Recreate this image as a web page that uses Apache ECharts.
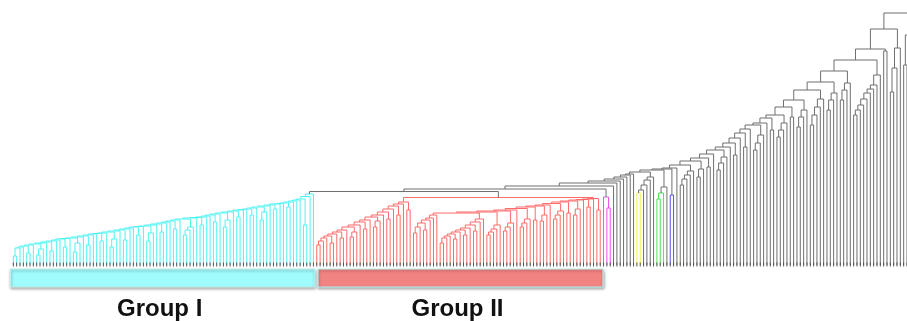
<!DOCTYPE html>
<html><head><meta charset="utf-8">
<script src="https://cdn.jsdelivr.net/npm/echarts@6.0.0/dist/echarts.min.js"></script>
<style>html,body{margin:0;padding:0;background:#fff;}#c{width:907px;height:321px;}</style>
</head><body><div id="c"></div>
<script>
// ---------------- data (heights, px above baseline) ----------------
// Group I: ladder of blocks (leaf counts), inner merge heights (flattened), join heights
const g1Sizes = [2,1,1,2,1,3,1,2,1,1, 2,1,3,1,2,1,1,2,1,3, 1,2,1,1,2,1,3,1,2,1, 1,2,1,4,1,2,1,1,2,1, 3,1,2,1,1,2,1,3,1,2, 1,1,2,1,1,1,2,1,1];
const g1Inner = [9,12,10,16,14,18,13,22,20,24,18,26,25,30,24,32,33,36,30,35,38,40,43,38,45,48,50,45,53,56,58,40];
const g1Joins = [17,18,19,20,21,22,23,24,25,26, 26.5,27,28,29,30,31,31.5,32,33,34, 35,36,37,38,38.5,39,40,41,42,43, 44,45,46,47,47.5,48,49,50,51,52, 53,54,55,55.5,56,57,58,59,60,61, 61.5,62,63,64,65,66,68.5,71];
// Group II, sub-clade a (left)
const g2aSizes = [2,1,1,2,1,2,1,3,1,2,1,3,1,2,1,2,1,2];
const g2aInner = [20,22,27,28,33,36,38,44,46,50,55];
const g2aJoins = [24,27,29,31,33,35,38,40,43,45,48,50,53,56,59,61,63];
// Group II, sub-clade b (small middle)
const g2bSizes = [2,1,2,1,1,1];
const g2bInner = [32,35];
const g2bJoins = [38,42,45,47,50];
// Group II, sub-clade c (start of right ladder)
const g2cSizes = [2,1,1,2,1,2,1,2,1,1];
const g2cInner = [22,26,30,34];
const g2cJoins = [27,29,31,33,35,37,40,43,46];
const g2bcJoin = 52;
// Group II, blocks joining the right ladder
const g2dSizes = [5,4,1,4,2,3,1,4,2,3,1,2,1,2];
const g2dInner = [30,33,36,40, 34,38,42, 38,42,46, 45, 44,50, 46,50,54, 52, 50,56, 58, 55];
const g2dJoins = [53,54,55,56.5,58,59,60,61.5,63,64,65,65.5,66,66.5];
const g2Root = 67.5;
const groupsJoin = 73.5;
// magenta cluster
const magSizes = [1,2];
const magInner = [57];
const magJoins = [68];
const magJoin = 76;
// remaining (unassigned) part: ladder of blocks up to the root
const graySizes = [1,1,1,1,1,1,1, 6,4,2,1,5,3,2,1,4,1,2,1,2,1,4,1,2,4,2,4,5,4,4,9,2,4,3];
const grayInner = [72,75,80,85,88, 66,72,78, 70, 80,86,90,94, 88,96, 98, 95,102,108, 110, 118, 115,122,130, 135, 128,135,142, 148, 138,148,155, 140,150,158,166, 155,165,172, 165,175,182, 150,155,160,166,172,176,180,190, 214, 173,197,217, 200,230];
const grayJoins = [79,82,84,86,88,90,91, 93,95,96,97,100,104,107,111,115,118,122,127,132,136,140,142,147,150,158,165,175,183,194,205,216,236,252];
// small coloured clusters inside that part
const hlBlock = [7,8,9];
const hlCount = [2,3,2];
const hlColor = ['yellow','green','blue'];
// group bars
const groupNames = ['Group I','Group II'];
const groupColors = ['cyan','red'];

// ---------------- styles ----------------
const palette = {cyan:'#4ef3f3', red:'#ff6a6a', magenta:'#ee4cee', yellow:'#f0f045', green:'#52e052', blue:'#5252f2', gray:'#6f6f6f'};
const barFill = {cyan:'#9ffcfc', red:'#f28383'};
const colorKeys = Object.keys(palette);

// ---------------- tree building ----------------
let leafCount = 0;
const leafList = [];
function leaf(color){ const n = {leaf:true, x:leafCount++, h:0, color}; leafList.push(n); return n; }
function join(a, b, h){ return {l:a, r:b, h, x:(a.x+b.x)/2, color: a.color===b.color ? a.color : 'gray', first: a.first!==undefined?a.first:a.x, last: b.last!==undefined?b.last:b.x}; }
function chain(n, hs, colorOf){ let t = leaf(colorOf(0)); for (let k=1;k<n;k++) t = join(t, leaf(colorOf(k)), hs[k-1]); return t; }
function buildLadder(sizes, inner, joins, color, start, special){
  let p = 0, ji = 0, t = start || null;
  sizes.forEach((n, b) => {
    const hs = inner.slice(p, p+n-1); p += n-1;
    const si = special ? special.block.indexOf(b) : -1;
    const blk = chain(n, hs, k => (si>=0 && k < special.count[si]) ? special.color[si] : color);
    t = (t === null) ? blk : join(t, blk, joins[ji++]);
  });
  return t;
}
const gI = buildLadder(g1Sizes, g1Inner, g1Joins, 'cyan');
const g2a = buildLadder(g2aSizes, g2aInner, g2aJoins, 'red');
const g2b = buildLadder(g2bSizes, g2bInner, g2bJoins, 'red');
const g2c = buildLadder(g2cSizes, g2cInner, g2cJoins, 'red');
const g2l = buildLadder(g2dSizes, g2dInner, g2dJoins, 'red', join(g2b, g2c, g2bcJoin));
const gII = join(g2a, g2l, g2Root);
let root = join(gI, gII, groupsJoin);
root = join(root, buildLadder(magSizes, magInner, magJoins, 'magenta'), magJoin);
root = buildLadder(graySizes, grayInner, grayJoins, 'gray', root, {block:hlBlock, count:hlCount, color:hlColor});

const links = [];
(function walk(n){ if (n.leaf) return; walk(n.l); walk(n.r);
  links.push([n.l.x, n.r.x, n.l.h, n.r.h, n.h, colorKeys.indexOf(n.color)]); })(root);
links.sort((a,b)=> (a[5]===colorKeys.indexOf('gray')) - (b[5]===colorKeys.indexOf('gray')));
const groupData = [gI, gII].map((g,i)=>[g.first, g.last, i]);
const barPadL = [0.9, -0.35], barPadR = [0.45, 0.85];

// ---------------- chart ----------------
const chart = echarts.init(document.getElementById('c'), null, {renderer:'canvas'});
chart.setOption({
  animation:false,
  grid:{left:10, right:0, top:12, bottom:54},
  xAxis:{type:'value', min:-1, max:268, show:false},
  yAxis:{type:'value', min:-2, max:253, show:false},
  series:[
    {type:'custom', clip:true, silent:true, data:links, encode:{x:[0,1], y:[2,3,4]},
     renderItem:(params, api)=>{
       const lx=api.value(0), rx=api.value(1), lh=api.value(2), rh=api.value(3), h=api.value(4);
       const pts=[api.coord([lx,lh]), api.coord([lx,h]), api.coord([rx,h]), api.coord([rx,rh])];
       return {type:'polyline', shape:{points:pts}, style:{stroke:palette[colorKeys[api.value(5)]], lineWidth:1, fill:null}};
     }},
    {type:'custom', clip:true, silent:true, data:leafList.map(l=>[l.x]), encode:{x:0},
     renderItem:(params, api)=>{
       const x=api.value(0); const a=api.coord([x,-1.5]), b=api.coord([x,2.5]);
       return {type:'line', shape:{x1:a[0],y1:a[1],x2:b[0],y2:b[1]}, style:{stroke:'#555', lineWidth:1}};
     }},
    {type:'custom', clip:false, silent:true, data:groupData, encode:{x:[0,1]},
     renderItem:(params, api)=>{
       const i=api.value(2); const x0=api.coord([api.value(0)-barPadL[i], 0])[0], x1=api.coord([api.value(1)+barPadR[i], 0])[0];
       const cs=params.coordSys; const yb=cs.y+cs.height;
       const col=groupColors[i];
       return {type:'group', children:[
         {type:'rect', shape:{x:x0, y:yb+2, width:x1-x0, height:18},
          style:{fill:barFill[col], stroke: col==='red' ? '#b8f4f4' : '#bfeeee', lineWidth:1.2, shadowColor:'rgba(0,0,0,0.35)', shadowBlur:3, shadowOffsetY:1.5, shadowOffsetX:0.5}},
         {type:'text', x:(x0+x1)/2-3, y:yb+42, style:{text:groupNames[i], fill:'#111', font:'bold 24px "Liberation Sans", Arial, sans-serif', align:'center', verticalAlign:'middle'}}
       ]};
     }}
  ]
});
</script></body></html>
